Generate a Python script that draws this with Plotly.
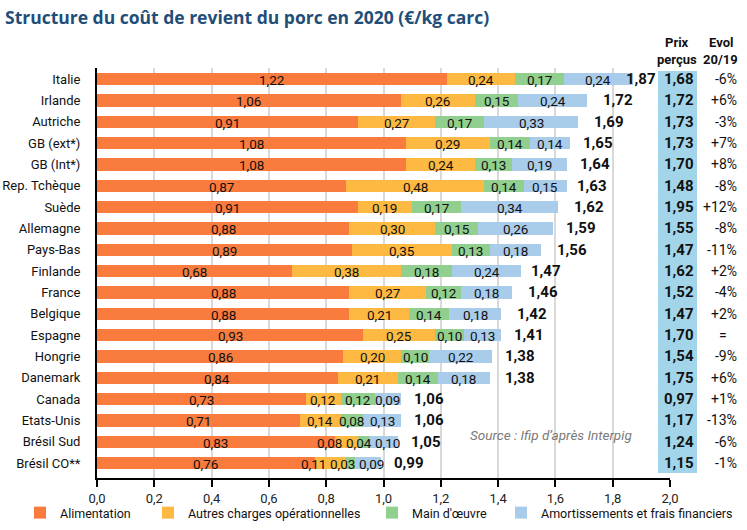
import plotly.graph_objects as go

countries = ["Italie", "Irlande", "Autriche", "GB (ext*)", "GB (Int*)", "Rep. Tchèque", "Suède",
             "Allemagne", "Pays-Bas", "Finlande", "France", "Belgique", "Espagne", "Hongrie",
             "Danemark", "Canada", "Etats-Unis", "Brésil Sud", "Brésil CO**"]
alimentation = [1.22, 1.06, 0.91, 1.08, 1.08, 0.87, 0.91, 0.88, 0.89, 0.68, 0.88, 0.88, 0.93, 0.86, 0.84, 0.73, 0.71, 0.83, 0.76]
autres = [0.24, 0.26, 0.27, 0.29, 0.24, 0.48, 0.19, 0.30, 0.35, 0.38, 0.27, 0.21, 0.25, 0.20, 0.21, 0.12, 0.14, 0.08, 0.11]
main_oeuvre = [0.17, 0.15, 0.17, 0.14, 0.13, 0.14, 0.17, 0.15, 0.13, 0.18, 0.12, 0.14, 0.10, 0.10, 0.14, 0.12, 0.08, 0.04, 0.03]
amortissements = [0.24, 0.24, 0.33, 0.14, 0.19, 0.15, 0.34, 0.26, 0.18, 0.24, 0.18, 0.18, 0.13, 0.22, 0.18, 0.09, 0.13, 0.10, 0.09]
totals = [1.87, 1.72, 1.69, 1.65, 1.64, 1.63, 1.62, 1.59, 1.56, 1.47, 1.46, 1.42, 1.41, 1.38, 1.38, 1.06, 1.06, 1.05, 0.99]
prix_percus = [1.68, 1.72, 1.73, 1.73, 1.70, 1.48, 1.95, 1.55, 1.47, 1.62, 1.52, 1.47, 1.70, 1.54, 1.75, 0.97, 1.17, 1.24, 1.15]
evol = ["-6%", "+6%", "-3%", "+7%", "+8%", "-8%", "+12%", "-8%", "-11%", "+2%", "-4%", "+2%", "=", "-9%", "+6%", "+1%", "-13%", "-6%", "-1%"]
x_ticks = [0, 0.2, 0.4, 0.6, 0.8, 1.0, 1.2, 1.4, 1.6, 1.8, 2.0]

series = [
    ("Alimentation", alimentation, "#F97B3D"),
    ("Autres charges opérationnelles", autres, "#FDB942"),
    ("Main d'œuvre", main_oeuvre, "#91CF8E"),
    ("Amortissements et frais financiers", amortissements, "#A9CCEB"),
]
legend_text_left = [60, 188, 412, 541]

FONT = "Roboto, Liberation Sans, sans-serif"
TXT = "#111111"

W0, W1 = 97, 670
T0, B0 = 68, 478
XMAX = 2.0
PXU = (W1 - W0) / XMAX


def px(x):
    return (x - W0) / (W1 - W0)


def py(y):
    return (B0 - y) / (B0 - T0)


def fmt(v):
    return f"{v:.2f}".replace(".", ",")


fig = go.Figure()
legend_layout = {}
for k, (name, vals, col) in enumerate(series):
    lg = "legend" if k == 0 else f"legend{k + 1}"
    fig.add_trace(go.Bar(
        y=countries, x=vals, name=name, orientation="h",
        marker=dict(color=col, line=dict(width=0)),
        textposition="none", hoverinfo="x+y+name", legend=lg,
    ))
    legend_layout[lg] = dict(orientation="h", x=(legend_text_left[k] - 40 - W0) / (W1 - W0),
                             y=py(498), xanchor="left", yanchor="top",
                             font=dict(family=FONT, size=12.5, color=TXT), itemwidth=30,
                             bgcolor="rgba(0,0,0,0)", borderwidth=0)

annotations = []
# segment labels, centred on segments, nudged apart where they would collide
LW, GAP = 23, 6
for r, c in enumerate(countries):
    vals = [s[1][r] for s in series]
    centers, cum = [], 0.0
    for v in vals:
        centers.append((cum + v / 2) * PXU)
        cum += v
    pos = list(centers)
    for _ in range(80):
        for i in range(len(pos) - 1):
            d = pos[i + 1] - pos[i]
            if d < LW + GAP:
                m = (LW + GAP - d) / 2
                pos[i] -= m
                pos[i + 1] += m
    over = pos[-1] - centers[-1] - 4
    if over > 0:
        pos = [p - over if abs(p - ctr) > 0.5 else p for p, ctr in zip(pos, centers)]
    for (v, ctr, p) in zip(vals, centers, pos):
        annotations.append(dict(x=ctr / PXU, y=c, xref="x", yref="y", text=fmt(v),
                                showarrow=False, xanchor="center", xshift=p - ctr, yshift=-1,
                                font=dict(family=FONT, size=13.5, color=TXT)))

for c, t in zip(countries, totals):
    end = W0 + t * PXU
    shift = 11
    if end + shift + 31 > 655:
        shift = 655 - 31 - end
    annotations.append(dict(x=t, y=c, xref="x", yref="y", text="<b>%s</b>" % fmt(t),
                            showarrow=False, xanchor="left", xshift=shift,
                            font=dict(family=FONT, size=15, color=TXT)))

for c, p, e in zip(countries, prix_percus, evol):
    annotations.append(dict(x=px(679), y=c, xref="paper", yref="y", text="<b>%s</b>" % fmt(p),
                            showarrow=False, xanchor="center",
                            font=dict(family=FONT, size=15, color=TXT)))
    annotations.append(dict(x=px(739), y=c, xref="paper", yref="y", text=e,
                            showarrow=False, xanchor="right",
                            xshift=-10 if e == "=" else 0,
                            font=dict(family=FONT, size=14, color=TXT)))

for txt, x, y in [("Prix", 677, 43), ("perçus", 677, 60), ("Evol", 721, 43), ("20/19", 720, 60)]:
    annotations.append(dict(x=px(x), y=py(y), xref="paper", yref="paper", text="<b>%s</b>" % txt,
                            showarrow=False, xanchor="center", yanchor="middle",
                            font=dict(family=FONT, size=13, color=TXT)))

annotations.append(dict(x=px(551), y=py(435), xref="paper", yref="paper",
                        text="<i>Source : Ifip d’après Interpig</i>", showarrow=False,
                        xanchor="center", yanchor="middle",
                        font=dict(family=FONT, size=13.5, color="#7a7a7a")))

annotations.append(dict(x=px(3), y=py(17), xref="paper", yref="paper",
                        xanchor="left", yanchor="middle",
                        text="<b>Structure du coût de revient du porc en 2020 (€/kg carc)</b>",
                        showarrow=False, font=dict(family="Open Sans, sans-serif", size=17.5, color="#1F4E79")))

shapes = [dict(type="rect", xref="paper", yref="paper", x0=px(658), x1=px(697), y0=py(473), y1=py(71),
               fillcolor="#A3D5EA", line=dict(width=0), layer="below")]

fig.update_layout(
    width=747, height=530,
    margin=dict(l=W0, r=747 - W1, t=T0, b=530 - B0, pad=0, autoexpand=False),
    barmode="stack", bargap=0.42,
    separators=", ",
    plot_bgcolor="white", paper_bgcolor="white",
    font=dict(family=FONT, size=13, color=TXT),
    showlegend=True,
    annotations=annotations, shapes=shapes,
    **legend_layout,
)
fig.update_xaxes(range=[0, XMAX], tickvals=x_ticks, tickformat=".1f",
                 showgrid=True, gridcolor="#D9D9D9", gridwidth=2,
                 showline=True, linecolor="black", linewidth=2,
                 ticks="outside", ticklen=7, tickwidth=2, tickcolor="black",
                 zeroline=False, tickfont=dict(family=FONT, size=13, color="#222222"),
                 automargin=False, fixedrange=True)
fig.update_yaxes(categoryorder="array", categoryarray=countries, range=[18.7, -0.52],
                 showline=True, linecolor="black", linewidth=2, ticks="",
                 showgrid=False, ticklabelstandoff=12, automargin=False,
                 tickfont=dict(family=FONT, size=13, color=TXT), fixedrange=True)

fig.write_html("out.html")
